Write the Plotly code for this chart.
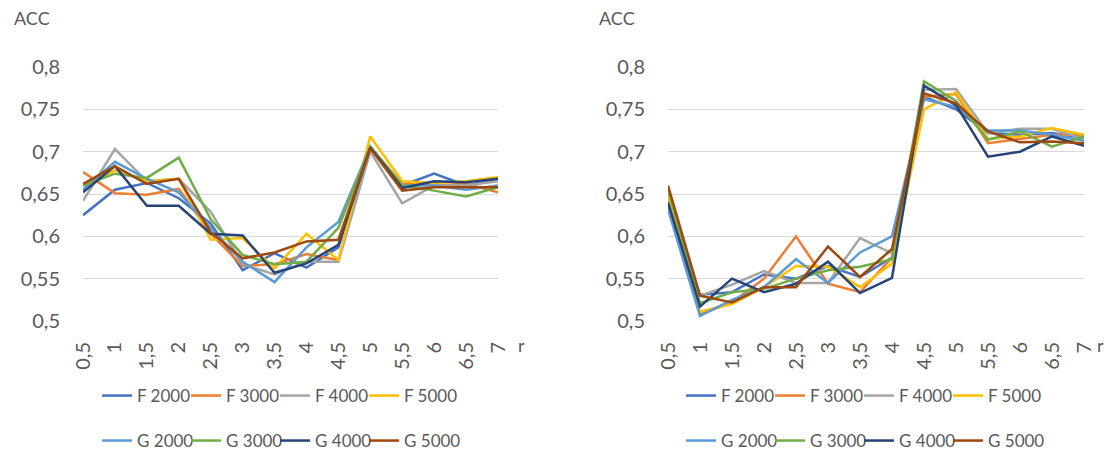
import plotly.graph_objects as go

categories = ["0,5", "1", "1,5", "2", "2,5", "3", "3,5", "4", "4,5", "5", "5,5", "6", "6,5", "7"]
series_names = ["F 2000", "F 3000", "F 4000", "F 5000", "G 2000", "G 3000", "G 4000", "G 5000"]
y_tick_vals = [0.5, 0.55, 0.6, 0.65, 0.7, 0.75, 0.8]
y_tick_text = ["0,5", "0,55", "0,6", "0,65", "0,7", "0,75", "0,8"]

# Left chart
left_F2000 = [0.625, 0.655, 0.663, 0.645, 0.615, 0.560, 0.580, 0.563, 0.587, 0.705, 0.660, 0.674, 0.660, 0.668]
left_F3000 = [0.676, 0.651, 0.649, 0.656, 0.603, 0.565, 0.567, 0.579, 0.572, 0.705, 0.662, 0.660, 0.662, 0.652]
left_F4000 = [0.642, 0.703, 0.665, 0.668, 0.629, 0.567, 0.555, 0.570, 0.570, 0.700, 0.639, 0.660, 0.660, 0.665]
left_F5000 = [0.660, 0.678, 0.665, 0.668, 0.596, 0.598, 0.562, 0.603, 0.572, 0.718, 0.665, 0.663, 0.665, 0.670]
left_G2000 = [0.655, 0.688, 0.668, 0.652, 0.610, 0.570, 0.546, 0.587, 0.617, 0.706, 0.660, 0.660, 0.655, 0.660]
left_G3000 = [0.660, 0.674, 0.669, 0.693, 0.620, 0.578, 0.567, 0.570, 0.610, 0.706, 0.660, 0.654, 0.647, 0.658]
left_G4000 = [0.652, 0.683, 0.636, 0.636, 0.603, 0.601, 0.557, 0.568, 0.590, 0.705, 0.657, 0.665, 0.664, 0.668]
left_G5000 = [0.662, 0.683, 0.662, 0.668, 0.605, 0.574, 0.581, 0.594, 0.596, 0.704, 0.654, 0.658, 0.658, 0.658]

# Right chart
right_F2000 = [0.635, 0.531, 0.534, 0.555, 0.550, 0.565, 0.552, 0.575, 0.765, 0.750, 0.722, 0.720, 0.722, 0.716]
right_F3000 = [0.645, 0.508, 0.522, 0.550, 0.600, 0.544, 0.534, 0.575, 0.765, 0.768, 0.710, 0.715, 0.720, 0.720]
right_F4000 = [0.645, 0.530, 0.543, 0.559, 0.545, 0.545, 0.598, 0.580, 0.773, 0.774, 0.722, 0.727, 0.727, 0.715]
right_F5000 = [0.650, 0.511, 0.520, 0.540, 0.565, 0.564, 0.540, 0.568, 0.750, 0.770, 0.715, 0.718, 0.728, 0.720]
right_G2000 = [0.632, 0.506, 0.525, 0.540, 0.573, 0.545, 0.581, 0.600, 0.762, 0.753, 0.725, 0.725, 0.720, 0.713]
right_G3000 = [0.655, 0.521, 0.534, 0.538, 0.550, 0.560, 0.564, 0.573, 0.783, 0.760, 0.714, 0.724, 0.706, 0.718]
right_G4000 = [0.640, 0.517, 0.550, 0.534, 0.544, 0.570, 0.533, 0.551, 0.778, 0.755, 0.694, 0.700, 0.718, 0.707]
right_G5000 = [0.660, 0.530, 0.522, 0.540, 0.540, 0.588, 0.552, 0.585, 0.769, 0.757, 0.724, 0.711, 0.712, 0.710]

colors = ["#4472C4", "#ED7D31", "#A5A5A5", "#FFC000", "#5B9BD5", "#70AD47", "#264478", "#9E480E"]

left_series = [left_F2000, left_F3000, left_F4000, left_F5000, left_G2000, left_G3000, left_G4000, left_G5000]
right_series = [right_F2000, right_F3000, right_F4000, right_F5000, right_G2000, right_G3000, right_G4000, right_G5000]

FONT = "Lato"
TXT = "#595959"
GRID = "#D9D9D9"
W, H = 1106, 470

fig = go.Figure()

for i, (name, vals) in enumerate(zip(series_names, left_series)):
    fig.add_trace(go.Scatter(
        x=categories, y=vals, name=name, mode="lines",
        line=dict(color=colors[i], width=2.5),
        xaxis="x", yaxis="y",
        legend="legend" if i < 4 else "legend2",
    ))
for i, (name, vals) in enumerate(zip(series_names, right_series)):
    fig.add_trace(go.Scatter(
        x=categories, y=vals, name=name, mode="lines",
        line=dict(color=colors[i], width=2.5),
        xaxis="x2", yaxis="y2",
        legend="legend3" if i < 4 else "legend4",
    ))

# invisible spacer entries so the last legend label is not clipped
for leg, ax in [("legend", "x"), ("legend2", "x"), ("legend3", "x2"), ("legend4", "x2")]:
    fig.add_trace(go.Scatter(
        x=[None], y=[None], name=" ", mode="lines",
        line=dict(color="rgba(0,0,0,0)", width=0),
        xaxis=ax, yaxis="y" if ax == "x" else "y2",
        legend=leg, hoverinfo="skip",
    ))

def px_x(p):
    return p / W

def px_y(p):
    return (H - p) / H

xcommon = dict(
    type="category", showgrid=False, showline=False, zeroline=False,
    tickangle=-90, ticks="outside", ticklen=12, tickcolor="rgba(0,0,0,0)",
    tickfont=dict(family=FONT, size=20, color=TXT), fixedrange=True,
    automargin=False,
)
ycommon = dict(
    range=[0.5, 0.8], tickvals=y_tick_vals, ticktext=y_tick_text,
    showgrid=True, gridcolor=GRID, gridwidth=1.2, zeroline=False, showline=False,
    ticks="outside", ticklen=18, tickcolor="rgba(0,0,0,0)",
    tickfont=dict(family=FONT, size=20, color=TXT), fixedrange=True,
    automargin=False,
)

ydom = [px_y(321), px_y(67)]

legcommon = dict(
    orientation="h", xanchor="left", yanchor="middle",
    entrywidth=44, entrywidthmode="pixels", traceorder="normal",
    font=dict(family=FONT, size=17, color=TXT), bgcolor="rgba(0,0,0,0)",
    itemclick=False, itemdoubleclick=False,
)

fig.update_layout(
    width=W, height=H, autosize=False,
    margin=dict(l=0, r=0, t=0, b=0, autoexpand=False),
    paper_bgcolor="white", plot_bgcolor="white",
    font=dict(family=FONT, color=TXT),
    xaxis=dict(domain=[px_x(83), px_x(498)], anchor="y", **xcommon),
    yaxis=dict(domain=ydom, anchor="x", **ycommon),
    xaxis2=dict(domain=[px_x(668), px_x(1084)], anchor="y2", **xcommon),
    yaxis2=dict(domain=ydom, anchor="x2", **ycommon),
    legend=dict(x=px_x(97), y=px_y(396), **legcommon),
    legend2=dict(x=px_x(97), y=px_y(441), **legcommon),
    legend3=dict(x=px_x(681), y=px_y(396), **legcommon),
    legend4=dict(x=px_x(681), y=px_y(441), **legcommon),
    annotations=[
        dict(text="ACC", x=px_x(12), y=px_y(18), xref="paper", yref="paper",
             xanchor="left", yanchor="middle", showarrow=False,
             font=dict(family=FONT, size=18, color=TXT)),
        dict(text="r", x=px_x(521), y=px_y(345), xref="paper", yref="paper",
             xanchor="center", yanchor="middle", showarrow=False,
             font=dict(family=FONT, size=18, color=TXT)),
        dict(text="ACC", x=px_x(597), y=px_y(18), xref="paper", yref="paper",
             xanchor="left", yanchor="middle", showarrow=False,
             font=dict(family=FONT, size=18, color=TXT)),
        dict(text="r", x=px_x(1100), y=px_y(345), xref="paper", yref="paper",
             xanchor="center", yanchor="middle", showarrow=False,
             font=dict(family=FONT, size=18, color=TXT)),
    ],
)

fig.write_html("out.html", config={"displayModeBar": False})
